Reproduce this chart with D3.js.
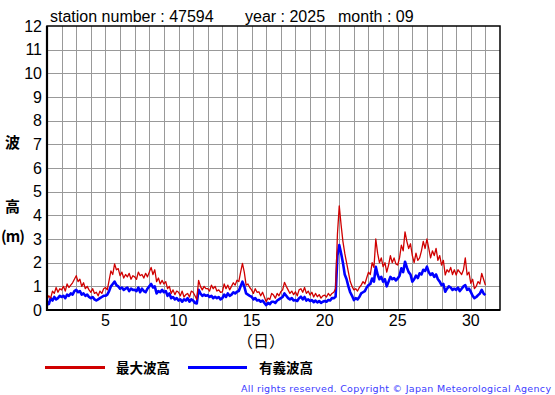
<!DOCTYPE html>
<html><head><meta charset="utf-8">
<script src="https://cdn.jsdelivr.net/npm/d3@7"></script>
<style>body{margin:0;background:#fff}svg{display:block}</style>
</head><body>
<script>
// 3-hourly samples from Sep 1 00:00 to Oct 1 00:00
const stepHours = 3;
const maxWave = [
0.45,0.6,0.5,0.8,0.7,0.95,0.75,0.9,
0.85,1.0,0.8,1.1,0.95,1.05,1.15,1.3,
1.45,1.2,1.3,1.0,1.15,0.9,1.0,0.85,
0.75,0.9,0.7,0.75,0.6,0.8,0.7,0.9,
0.95,0.85,1.25,1.65,1.5,1.95,1.7,1.75,
1.45,1.6,1.35,1.5,1.4,1.55,1.3,1.45,
1.4,1.3,1.6,1.45,1.5,1.35,1.55,1.4,
1.6,1.8,1.5,1.7,1.2,1.35,1.1,1.25,
1.1,1.2,0.9,1.0,0.7,0.85,0.65,0.8,
0.75,0.6,0.8,0.55,0.65,0.7,0.55,0.8,
0.75,0.6,0.45,1.25,1.0,0.85,1.0,0.9,
0.9,0.8,1.05,0.9,1.0,0.8,0.85,0.75,
0.77,1.1,0.9,1.05,0.85,1.0,1.15,1.05,
1.26,1.2,1.6,1.97,1.6,1.05,1.1,0.95,
0.85,0.7,0.9,0.75,0.77,0.6,0.75,0.55,
0.35,0.5,0.45,0.7,0.63,0.5,0.7,0.6,
0.77,0.85,1.17,1.0,0.85,0.7,0.8,0.65,
0.77,0.6,0.85,0.9,0.75,0.95,0.7,0.8,
0.63,0.75,0.55,0.7,0.56,0.65,0.5,0.6,
0.63,0.55,0.7,0.6,0.7,0.75,0.9,3.2,
4.4,3.6,2.9,2.4,2.0,1.6,1.2,1.0,
0.85,0.9,0.8,0.95,1.05,1.2,1.1,1.35,
1.6,1.5,2.0,1.8,3.0,2.4,2.0,2.2,
1.83,2.0,1.6,1.9,2.3,2.0,2.2,1.95,
1.9,2.2,2.74,2.5,3.3,2.9,2.6,2.8,
2.3,2.0,2.4,2.1,2.2,2.5,2.9,2.6,
3.0,2.6,2.2,2.5,2.3,2.6,2.1,2.3,
1.9,2.1,1.48,1.7,1.6,1.8,1.5,1.7,
1.48,1.7,1.6,1.5,1.7,2.2,1.48,1.6,
1.13,1.3,0.9,1.0,1.2,1.1,1.55,1.3,
1.05];
const sigWave = [
0.35,0.25,0.5,0.4,0.55,0.45,0.5,0.6,
0.55,0.6,0.5,0.65,0.6,0.7,0.65,0.8,
0.85,0.75,0.8,0.65,0.7,0.6,0.65,0.55,
0.5,0.55,0.45,0.4,0.45,0.5,0.55,0.6,
0.6,0.65,0.8,1.0,1.1,1.2,1.05,1.0,
0.9,0.95,0.85,0.9,0.95,0.8,0.9,0.85,
0.85,0.8,0.95,0.75,0.9,0.8,0.75,0.9,
1.0,1.1,0.95,1.0,0.7,0.8,0.75,0.85,
0.75,0.8,0.6,0.7,0.5,0.55,0.45,0.5,
0.4,0.45,0.35,0.45,0.4,0.5,0.35,0.45,
0.4,0.3,0.28,0.85,0.7,0.6,0.65,0.6,
0.63,0.55,0.6,0.5,0.56,0.5,0.55,0.45,
0.5,0.65,0.55,0.7,0.6,0.65,0.75,0.7,
0.77,0.8,1.0,1.2,1.0,0.7,0.65,0.6,
0.56,0.45,0.5,0.4,0.42,0.35,0.4,0.3,
0.21,0.3,0.25,0.35,0.35,0.3,0.4,0.45,
0.5,0.55,0.7,0.6,0.5,0.45,0.5,0.4,
0.42,0.38,0.5,0.56,0.45,0.55,0.4,0.45,
0.38,0.42,0.33,0.4,0.32,0.38,0.3,0.35,
0.38,0.35,0.42,0.4,0.5,0.5,0.56,2.3,
2.74,2.4,2.0,1.5,1.3,1.0,0.75,0.6,
0.42,0.5,0.45,0.55,0.7,0.75,0.8,0.95,
1.05,1.1,1.33,1.2,1.83,1.5,1.3,1.4,
1.2,1.3,1.0,1.2,1.4,1.3,1.35,1.25,
1.33,1.45,1.76,1.6,2.04,1.8,1.6,1.5,
1.2,1.3,1.45,1.35,1.55,1.5,1.7,1.65,
1.83,1.6,1.48,1.55,1.4,1.5,1.3,1.2,
1.05,1.1,0.77,0.9,1.0,0.95,0.85,0.9,
0.85,0.95,0.8,0.9,1.0,1.05,0.85,0.9,
0.77,0.6,0.5,0.55,0.63,0.7,0.85,0.7,
0.63];
const xTickLabels = [5,10,15,20,25,30];
const yTickLabels = [0,1,2,3,4,5,6,7,8,9,10,11,12];
const titleParts = ["station number : 47594","year : 2025","month : 09"];
const seriesNames = ["最大波高","有義波高"];

const W=555,H=395;
const svg=d3.select("body").append("svg").attr("width",W).attr("height",H);
const x=d3.scaleLinear().domain([1,32]).range([47,500]);
const y=d3.scaleLinear().domain([0,12]).range([310,26]);
const font="'Liberation Sans', Arial, sans-serif";
const jp="'Noto Sans CJK JP', sans-serif";

// grid
const g=svg.append("g");
g.selectAll(".vg").data(d3.range(2,32)).enter().append("line")
 .attr("x1",d=>Math.round(x(d))+0.5).attr("x2",d=>Math.round(x(d))+0.5)
 .attr("y1",y(12)).attr("y2",y(0)).attr("stroke","#999").attr("stroke-width",1);
g.selectAll(".hg").data(d3.range(1,12)).enter().append("line")
 .attr("x1",x(1)).attr("x2",x(32))
 .attr("y1",d=>Math.round(y(d))+0.5).attr("y2",d=>Math.round(y(d))+0.5)
 .attr("stroke","#999").attr("stroke-width",1);

const line=d3.line().x((d,i)=>x(1+i*stepHours/24)).y(d=>y(d));
svg.append("path").datum(sigWave).attr("d",line).attr("fill","none")
 .attr("stroke","#0000ff").attr("stroke-width",2.6).attr("stroke-linejoin","round");
svg.append("path").datum(maxWave).attr("d",line).attr("fill","none")
 .attr("stroke","#d00000").attr("stroke-width",1.3).attr("stroke-linejoin","round");

// frame
svg.append("rect").attr("x",x(1)).attr("y",y(12)).attr("width",x(32)-x(1)).attr("height",y(0)-y(12))
 .attr("fill","none").attr("stroke","#000").attr("stroke-width",1.5);
svg.append("line").attr("x1",x(1)).attr("x2",x(1)).attr("y1",y(12)).attr("y2",y(0)+1).attr("stroke","#000").attr("stroke-width",2.2);
svg.append("line").attr("x1",x(1)).attr("x2",x(32)).attr("y1",y(0)).attr("y2",y(0)).attr("stroke","#000").attr("stroke-width",2.2);

// y ticks
svg.selectAll(".yl").data(yTickLabels).enter().append("text")
 .attr("x",42).attr("y",d=>y(d)+5.6).attr("text-anchor","end")
 .attr("font-family",font).attr("font-size",16).text(d=>d);
// x ticks
svg.selectAll(".xl").data(xTickLabels).enter().append("text")
 .attr("x",d=>x(d)).attr("y",326).attr("text-anchor","middle")
 .attr("font-family",font).attr("font-size",16).text(d=>d);

// title
const tx=[50,245,338];
titleParts.forEach((t,i)=>svg.append("text").attr("x",tx[i]).attr("y",21.5)
 .attr("font-family",font).attr("font-size",16).text(t));

// axis titles
svg.append("text").attr("x",12.5).attr("y",148).attr("text-anchor","middle").attr("font-family",jp).attr("font-weight","bold").attr("font-size",15).text("波");
svg.append("text").attr("x",12.5).attr("y",211.5).attr("text-anchor","middle").attr("font-family",jp).attr("font-weight","bold").attr("font-size",15).text("高");
svg.append("text").attr("x",1).attr("y",242).attr("font-family",jp).attr("font-weight","bold").attr("font-size",15)
 .attr("textLength",24).attr("lengthAdjust","spacing").text("(m)");
svg.append("text").attr("x",261).attr("y",347).attr("text-anchor","middle").attr("font-family",jp).attr("font-size",16).text("（日）");

// legend
const leg=[{c:"#d00000",x1:45,x2:105,tx:116,w:3},{c:"#0000ff",x1:188,x2:247,tx:259,w:3}];
leg.forEach((l,i)=>{
 svg.append("line").attr("x1",l.x1).attr("x2",l.x2).attr("y1",367.5).attr("y2",367.5).attr("stroke",l.c).attr("stroke-width",l.w);
 svg.append("text").attr("x",l.tx).attr("y",373).attr("font-family",jp).attr("font-weight","bold").attr("font-size",13.5).text(seriesNames[i]);
});
svg.append("text").attr("x",551).attr("y",392).attr("text-anchor","end")
 .attr("font-family","'DejaVu Sans', sans-serif").attr("font-size",9.5).attr("fill","#3b3bff")
 .attr("textLength",310).attr("lengthAdjust","spacing")
 .text("All rights reserved. Copyright © Japan Meteorological Agency");
</script>
</body></html>
